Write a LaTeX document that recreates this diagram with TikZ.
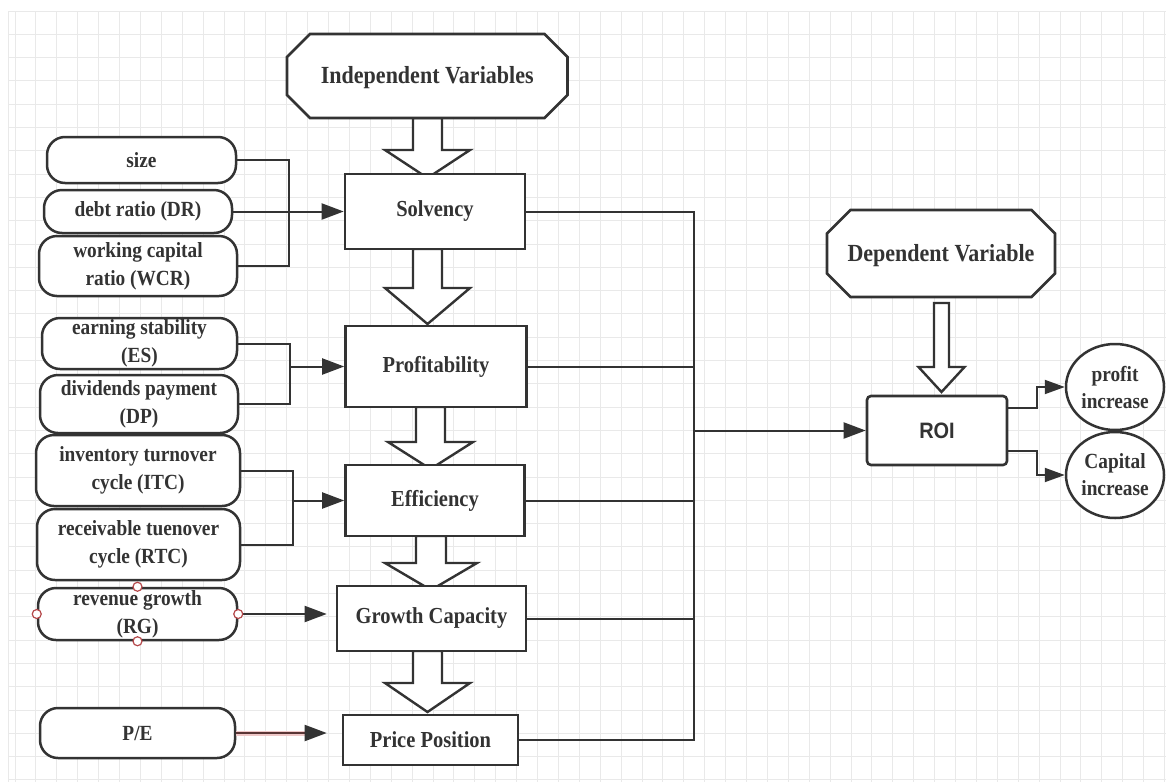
\documentclass[tikz,border=0pt]{standalone}
\usepackage{fontspec}
\newfontfamily\serifc{Liberation Serif}[FakeStretch=0.895]
\newfontfamily\sansc{Liberation Sans}[FakeStretch=0.895]
\usetikzlibrary{arrows.meta,calc,shapes.geometric}
\definecolor{ink}{HTML}{333333}
\definecolor{gridc}{HTML}{E9E9E9}
\definecolor{handlec}{HTML}{B5484A}
\definecolor{pelinec}{HTML}{5A3535}
\definecolor{pehalo}{HTML}{EFC8C8}
\newcommand{\blockarr}[6]{%
  \draw[barrow] ({#1-#5},#2) -- ({#1-#5},#3) -- ({#1-#6},#3) -- (#1,#4) -- ({#1+#6},#3) -- ({#1+#5},#3) -- ({#1+#5},#2) -- cycle;}
\newcommand{\octo}[5]{% cx, cy, halfw, halfh, cut
  \draw[octostyle] ({#1-#3+#5},{#2-#4}) -- ({#1+#3-#5},{#2-#4}) -- ({#1+#3},{#2-#4+#5}) -- ({#1+#3},{#2+#4-#5}) -- ({#1+#3-#5},{#2+#4}) -- ({#1-#3+#5},{#2+#4}) -- ({#1-#3},{#2+#4-#5}) -- ({#1-#3},{#2-#4+#5}) -- cycle;}
\begin{document}
\begin{tikzpicture}[x=1pt,y=-1pt,
  every node/.style={text=ink},
  gridline/.style={draw=gridc, line width=1pt},
  conn/.style={draw=ink, line width=2pt},
  arr/.style={conn, -{Triangle[length=22pt,width=16pt]}},
  sarr/.style={conn, -{Triangle[length=20pt,width=14pt]}},
  barrow/.style={draw=ink, line width=2.4pt, fill=white, line join=miter},
  octostyle/.style={draw=ink, line width=2.6pt, fill=white},
  header/.style={inner sep=0pt, font=\serifc\bfseries\fontsize{24.6}{30}\selectfont},
  boxn/.style={draw=ink, line width=2.6pt, fill=white, rectangle, inner sep=0pt, font=\serifc\bfseries\fontsize{22.9}{28}\selectfont},
  pill/.style={draw=ink, line width=2.5pt, fill=white, rectangle, rounded corners=18pt, inner sep=0pt, align=center, font=\serifc\bfseries\fontsize{21.6}{28}\selectfont},
  ell/.style={draw=ink, line width=2.5pt, fill=white, ellipse, inner sep=0pt, align=center, font=\serifc\bfseries\fontsize{21.6}{27}\selectfont},
  handle/.style={circle, draw=handlec, fill=white, line width=1.2pt, minimum size=9pt, inner sep=0pt}
]
\useasboundingbox (0,0) rectangle (1166,782);
\fill[white] (0,0) rectangle (1166,782);
% grid
\foreach \i in {0,...,55} \draw[gridline] ({15+20.9*\i},11) -- ({15+20.9*\i},782);
\foreach \j in {0,...,33} \draw[gridline] (8,{11+23.3*\j}) -- (1166,{11+23.3*\j});
\draw[gridline] (8,11) -- (8,782);

% block arrows
\blockarr{427.5}{118}{150}{178}{14.5}{42.5}
\blockarr{427.5}{249}{288}{324}{14.5}{42.5}
\blockarr{430.5}{407}{442}{469}{14.5}{42.5}
\blockarr{431}{536}{563}{590}{15}{46}
\blockarr{427.5}{651}{683}{712}{14.5}{42.5}
\blockarr{941.5}{303}{367}{392}{7.5}{23}

% octagons
\octo{427.25}{76}{140.25}{42}{23}
\node[header, minimum width=280, minimum height=84] (iv) at (427.25,78) {Independent Variables};
\octo{941}{253.5}{114}{43.5}{23.5}
\node[header, minimum width=228, minimum height=87] (dv) at (941,255.5) {Dependent Variable};

% main boxes
\node[boxn, minimum width=180, minimum height=75] (solv) at (435,211.5) {Solvency};
\node[boxn, minimum width=181, minimum height=81] (prof) at (436,366.5) {Profitability};
\node[boxn, minimum width=179, minimum height=71] (eff) at (435,500.5) {Efficiency};
\node[boxn, minimum width=189, minimum height=65] (grow) at (431.5,618.5) {Growth Capacity};
\node[boxn, minimum width=175, minimum height=50] (price) at (430.5,740) {Price Position};
\node[draw=ink, line width=2.6pt, fill=white, rounded corners=4pt, inner sep=0pt, minimum width=140, minimum height=69, font=\sansc\bfseries\fontsize{22.3}{27}\selectfont] (roi) at (937,430.5) {ROI};

% pills
\node[pill, minimum width=189, minimum height=46] (size) at (141.5,160) {size};
\node[pill, minimum width=188, minimum height=43] (dr) at (138,211.5) {debt ratio (DR)};
\node[pill, minimum width=198, minimum height=60] (wcr) at (138,266) {working capital\\ratio (WCR)};
\node[pill, minimum width=195, minimum height=51] (es) at (139.5,343.5) {earning stability\\(ES)};
\node[pill, minimum width=198, minimum height=58] (dp) at (139,404) {dividends payment\\(DP)};
\node[pill, minimum width=204, minimum height=71] (itc) at (138,470.5) {inventory turnover\\cycle (ITC)};
\node[pill, minimum width=203, minimum height=71] (rtc) at (138.5,544.5) {receivable tuenover\\cycle (RTC)};
\node[pill, minimum width=199, minimum height=52] (rg) at (137.5,614) {revenue growth\\(RG)};
\node[pill, minimum width=195, minimum height=50] (pe) at (137.5,733) {P/E};

% ellipses
\node[ell, minimum width=98, minimum height=86] (profit) at (1115,387) {profit\\increase};
\node[ell, minimum width=98, minimum height=86] (capital) at (1115,475) {Capital\\increase};

% junctions
\coordinate (j1) at (289,211.5);
\coordinate (j2) at (290,366.5);
\coordinate (j3) at (293,500.5);
\coordinate (ttop) at (694,211.5);
\coordinate (tbot) at (694,740);

% left connectors
\draw[conn] (size.east) -| (j1) |- (wcr.east);
\draw[arr] (dr.east) -- (solv.west);
\draw[conn] (es.east) -| (j2) |- (dp.east);
\draw[arr] (j2) -- (prof.west);
\draw[conn] (itc.east) -| (j3) |- (rtc.east);
\draw[arr] (j3) -- (eff.west);
\draw[arr, shorten >=9pt] (rg.east) -- (rg.east -| grow.west);
\draw[draw=pehalo, line width=5pt] (pe.east) -- ($(pe.east -| price.west)+(-36,0)$);
\draw[conn, draw=pelinec, -{Triangle[length=22pt,width=16pt,color=ink]}, shorten >=15pt] (pe.east) -- (pe.east -| price.west);

% right trunk
\draw[conn] (solv.east) -- (ttop) -- (tbot) -- (price.east);
\draw[conn] (prof.east) -- (prof.east -| ttop);
\draw[conn] (eff.east) -- (eff.east -| ttop);
\draw[conn] (grow.east) -- (grow.east -| ttop);
\draw[arr] (roi.west -| ttop) -- (roi.west);

% ROI outputs
\draw[sarr] ($(roi.east)+(0,-22.5)$) -- ++(29,0) |- (profit.west);
\draw[sarr] ($(roi.east)+(0,20.5)$) -- ++(29,0) |- (capital.west);

% selection handles
\node[handle] (h1) at (rg.north) {};
\node[handle] (h2) at (rg.south) {};
\node[handle] (h3) at (rg.west) {};
\node[handle] (h4) at (rg.east) {};
\end{tikzpicture}
\end{document}
